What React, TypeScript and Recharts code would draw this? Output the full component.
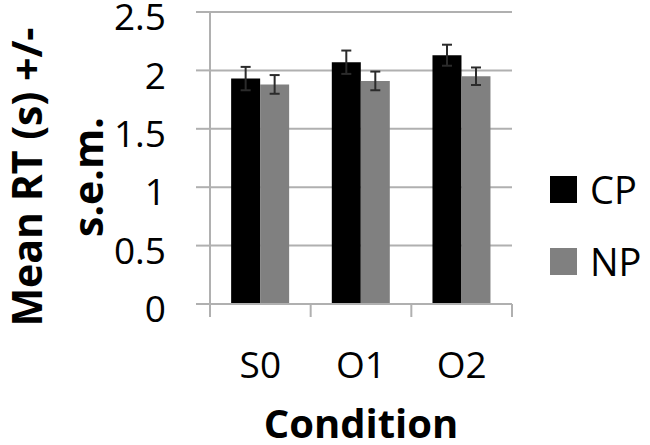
import React from 'react';
import { BarChart, Bar, XAxis, YAxis, CartesianGrid, ErrorBar, Legend } from 'recharts';

const categories = ['S0', 'O1', 'O2'];
const cpMeans = [1.93, 2.07, 2.13];
const npMeans = [1.88, 1.91, 1.95];
const cpErrors = [0.1, 0.1, 0.09];
const npErrors = [0.08, 0.08, 0.075];
const yTicks = [0, 0.5, 1, 1.5, 2, 2.5];
const seriesNames = ['CP', 'NP'];
const seriesColors = ['#000000', '#808080'];

const data = categories.map((c, i) => ({
  name: c,
  CP: cpMeans[i],
  NP: npMeans[i],
  cpErr: cpErrors[i],
  npErr: npErrors[i],
}));

const FONT = '"Open Sans", sans-serif';
const GRID = '#b0b0b0';
const W = 650;
const H = 445;
const MARGIN = { top: 12, right: 138, bottom: 0, left: 0 };
const Y_W = 210;
const PLOT_W = W - MARGIN.left - MARGIN.right - Y_W;

const XTick = (props: any) => {
  const { x, y, payload, index } = props;
  const bw = PLOT_W / categories.length;
  return (
    <g>
      <line x1={x - bw / 2} x2={x - bw / 2} y1={y} y2={y + 13} stroke={GRID} strokeWidth={2} />
      {index === categories.length - 1 && (
        <line x1={x + bw / 2} x2={x + bw / 2} y1={y} y2={y + 13} stroke={GRID} strokeWidth={2} />
      )}
      <text x={x} y={y + 59} textAnchor="middle" dominantBaseline="central" fontFamily={FONT} fontSize={37} fill="#000">
        {payload.value}
      </text>
    </g>
  );
};

const YLabel = (props: any) => {
  const vb = props.viewBox || { x: 0, y: 12, width: 210, height: 292 };
  const cy = vb.y + vb.height / 2 + 19;
  return (
    <g>
      <text x={vb.x + 26} y={cy} transform={`rotate(-90, ${vb.x + 26}, ${cy})`} textAnchor="middle" dominantBaseline="central" fontFamily={FONT} fontWeight={700} fontSize={41} fill="#000">
        Mean RT (s) +/-
      </text>
      <text x={vb.x + 87} y={cy} transform={`rotate(-90, ${vb.x + 87}, ${cy})`} textAnchor="middle" dominantBaseline="central" fontFamily={FONT} fontWeight={700} fontSize={41} fill="#000">
        s.e.m.
      </text>
    </g>
  );
};

const XLabel = (props: any) => {
  const vb = props.viewBox || { x: 210, y: 304, width: 302, height: 141 };
  return (
    <text x={vb.x + vb.width / 2} y={vb.y + 118} textAnchor="middle" dominantBaseline="central" fontFamily={FONT} fontWeight={700} fontSize={40} fill="#000">
      Condition
    </text>
  );
};

const LegendContent = () => (
  <div style={{ fontFamily: FONT }}>
    {seriesNames.map((n, i) => (
      <div key={n} style={{ display: 'flex', alignItems: 'center', height: 27, marginBottom: i === 0 ? 45 : 0 }}>
        <div style={{ width: 27, height: 27, background: seriesColors[i], marginRight: 13 }} />
        <span style={{ fontSize: 38, lineHeight: '27px', color: '#000' }}>{n}</span>
      </div>
    ))}
  </div>
);

export default function App() {
  return (
    <div style={{ position: 'absolute', left: 0, top: 0, width: W, height: H, background: '#fff' }}>
      <BarChart width={W} height={H} data={data} margin={MARGIN} barCategoryGap="21%" barGap={0}>
        <CartesianGrid vertical={false} stroke={GRID} strokeWidth={2} />
        <XAxis
          dataKey="name"
          height={H - 304 - MARGIN.bottom}
          tickLine={false}
          tickSize={0}
          tickMargin={0}
          axisLine={{ stroke: GRID, strokeWidth: 2 }}
          tick={<XTick />}
          interval={0}
          label={<XLabel />}
        />
        <YAxis
          width={Y_W}
          domain={[0, 2.5]}
          ticks={yTicks}
          interval={0}
          tickSize={14}
          tickMargin={30}
          stroke={GRID}
          axisLine={{ stroke: GRID, strokeWidth: 2 }}
          tickLine={{ stroke: GRID, strokeWidth: 2 }}
          tick={{ fill: '#000', fontSize: 37, fontFamily: FONT, dy: 5 }}
          label={<YLabel />}
        />
        <Legend
          verticalAlign="middle"
          align="center"
          layout="vertical"
          content={<LegendContent />}
          wrapperStyle={{ position: 'absolute', left: 550, top: 176, width: 100 }}
        />
        <Bar dataKey="CP" fill={seriesColors[0]} isAnimationActive={false}>
          <ErrorBar dataKey="cpErr" width={5} stroke="#2b2b2b" strokeWidth={2} isAnimationActive={false} />
        </Bar>
        <Bar dataKey="NP" fill={seriesColors[1]} isAnimationActive={false}>
          <ErrorBar dataKey="npErr" width={5} stroke="#2b2b2b" strokeWidth={2} isAnimationActive={false} />
        </Bar>
      </BarChart>
    </div>
  );
}
